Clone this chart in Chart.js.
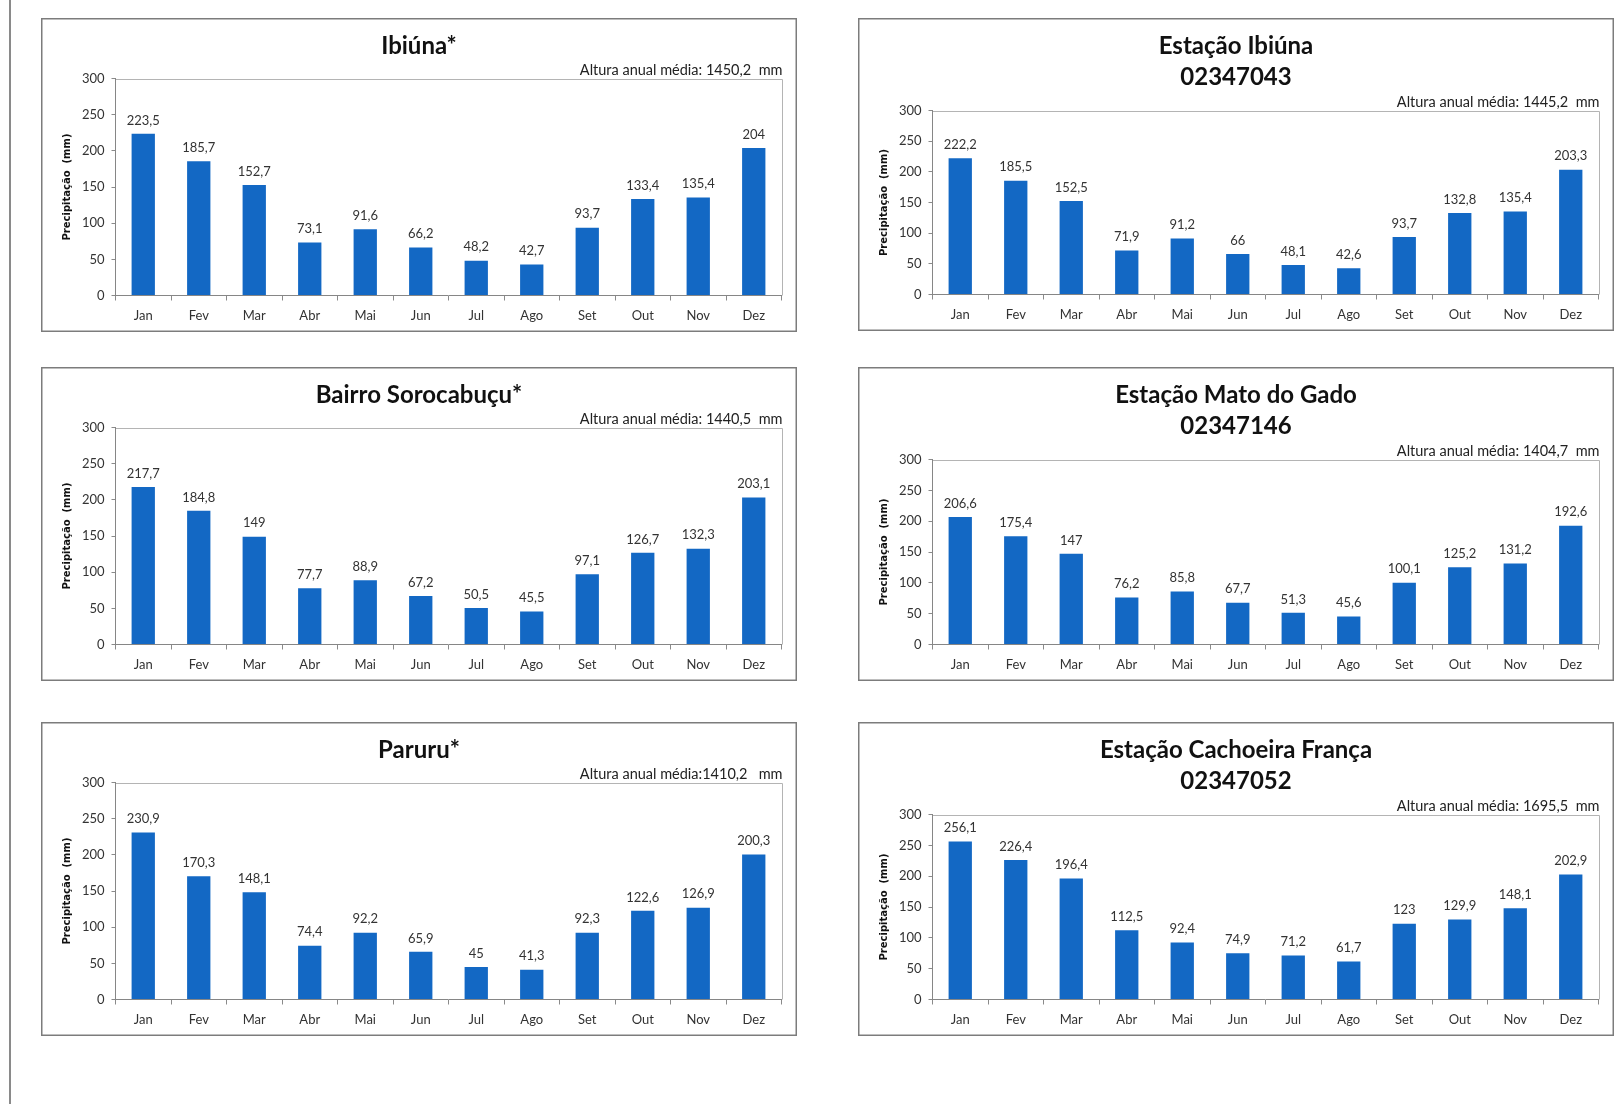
<!DOCTYPE html>
<html>
<head>
<meta charset="utf-8">
<script src="https://cdn.jsdelivr.net/npm/chart.js@4.4.0/dist/chart.umd.min.js"></script>
<style>
    body { margin: 0; background: #fff; width: 1619px; height: 1104px; position: relative; overflow: hidden; }
    #linha { position: absolute; left: 9px; top: 0; width: 2px; height: 1104px; background: #8a8a8a; }
    canvas { position: absolute; }
</style>
</head>
<body>
<div id="linha"></div>
<canvas id="c1" width="756" height="314" style="left:41px;top:18px"></canvas>
<canvas id="c2" width="756" height="313" style="left:858px;top:18px"></canvas>
<canvas id="c3" width="756" height="314" style="left:41px;top:367px"></canvas>
<canvas id="c4" width="756" height="314" style="left:858px;top:367px"></canvas>
<canvas id="c5" width="756" height="314" style="left:41px;top:722px"></canvas>
<canvas id="c6" width="756" height="314" style="left:858px;top:722px"></canvas>
<script>
// meses e precipitacao media mensal (mm) de cada posto
const meses = ['Jan', 'Fev', 'Mar', 'Abr', 'Mai', 'Jun', 'Jul', 'Ago', 'Set', 'Out', 'Nov', 'Dez'];
const ticksY = [0, 50, 100, 150, 200, 250, 300];

const ibiuna = [223.5, 185.7, 152.7, 73.1, 91.6, 66.2, 48.2, 42.7, 93.7, 133.4, 135.4, 204];
const estacaoIbiuna = [222.2, 185.5, 152.5, 71.9, 91.2, 66, 48.1, 42.6, 93.7, 132.8, 135.4, 203.3];
const sorocabucu = [217.7, 184.8, 149, 77.7, 88.9, 67.2, 50.5, 45.5, 97.1, 126.7, 132.3, 203.1];
const matoDoGado = [206.6, 175.4, 147, 76.2, 85.8, 67.7, 51.3, 45.6, 100.1, 125.2, 131.2, 192.6];
const paruru = [230.9, 170.3, 148.1, 74.4, 92.2, 65.9, 45, 41.3, 92.3, 122.6, 126.9, 200.3];
const cachoeiraFranca = [256.1, 226.4, 196.4, 112.5, 92.4, 74.9, 71.2, 61.7, 123, 129.9, 148.1, 202.9];

const titulos = [
    ['Ibiúna*'],
    ['Estação Ibiúna', '02347043'],
    ['Bairro Sorocabuçu*'],
    ['Estação Mato do Gado', '02347146'],
    ['Paruru*'],
    ['Estação Cachoeira França', '02347052']
];
const alturas = [
    'Altura anual média: 1450,2  mm',
    'Altura anual média: 1445,2  mm',
    'Altura anual média: 1440,5  mm',
    'Altura anual média: 1404,7  mm',
    'Altura anual média:1410,2   mm',
    'Altura anual média: 1695,5  mm'
];
const series = [ibiuna, estacaoIbiuna, sorocabucu, matoDoGado, paruru, cachoeiraFranca];

const fonte = 'Lato, "Open Sans", sans-serif';
const azul = '#1368c4';

// moldura, titulo, altura anual e rotulos das barras
const extras = {
    id: 'extras',
    beforeDraw(chart, args, opts) {
        const ctx = chart.ctx;
        const a = chart.chartArea;
        ctx.save();
        ctx.fillStyle = '#fff';
        ctx.fillRect(0, 0, chart.width, chart.height);
        ctx.strokeStyle = '#7c7c7c';
        ctx.lineWidth = 1.5;
        ctx.strokeRect(0.75, 0.75, chart.width - 1.5, chart.height - 1.5);
        // caixa da area do grafico
        ctx.strokeStyle = '#b4b4b4';
        ctx.lineWidth = 1;
        ctx.beginPath();
        ctx.moveTo(a.left, Math.round(a.top) + 0.5);
        ctx.lineTo(Math.round(a.right) + 0.5, Math.round(a.top) + 0.5);
        ctx.lineTo(Math.round(a.right) + 0.5, a.bottom);
        ctx.stroke();
        ctx.restore();
    },
    afterDraw(chart, args, opts) {
        const ctx = chart.ctx;
        const a = chart.chartArea;
        ctx.save();
        ctx.fillStyle = '#111';
        ctx.textAlign = 'center';
        ctx.textBaseline = 'middle';
        ctx.font = 'bold 24px ' + fonte;
        opts.titulo.forEach((t, i) => ctx.fillText(t, chart.width / 2, 28 + i * 31.5));
        ctx.font = '14.5px ' + fonte;
        ctx.fillStyle = '#222';
        ctx.textAlign = 'right';
        ctx.fillText(opts.altura, a.right + 1, a.top - 8);
        // valores em cima das barras
        ctx.font = '13px ' + fonte;
        ctx.fillStyle = '#333';
        ctx.textAlign = 'center';
        ctx.textBaseline = 'bottom';
        const meta = chart.getDatasetMeta(0);
        meta.data.forEach((bar, i) => {
            const v = chart.data.datasets[0].data[i];
            ctx.fillText(String(v).replace('.', ','), bar.x, bar.y - 7);
        });
        ctx.restore();
    }
};

function grafico(id, valores, titulo, altura) {
    const topo = titulo.length > 1 ? 92.5 : 60.5;
    const config = {
        type: 'bar',
        data: {
            labels: meses,
            datasets: [{
                data: valores,
                backgroundColor: azul,
                barPercentage: 0.42,
                categoryPercentage: 1
            }]
        },
        options: {
            responsive: false,
            animation: false,
            layout: { padding: { top: topo, right: 15.5, bottom: 0, left: 0 } },
            plugins: {
                legend: { display: false },
                tooltip: { enabled: false },
                extras: { titulo: titulo, altura: altura }
            },
            scales: {
                x: {
                    afterFit: (s) => { s.height = 36.5; },
                    grid: { offset: true, drawOnChartArea: false, tickLength: 5, color: '#8a8a8a' },
                    border: { color: '#868686' },
                    ticks: { color: '#333', padding: 8, font: { family: fonte, size: 13 } }
                },
                y: {
                    min: 0,
                    max: 300,
                    afterFit: (s) => { s.width = 74.5; },
                    afterBuildTicks: (s) => { s.ticks = ticksY.map(v => ({ value: v })); },
                    grid: { drawOnChartArea: false, tickLength: 4, color: '#8a8a8a' },
                    border: { color: '#868686' },
                    ticks: { color: '#333', padding: 7, font: { family: fonte, size: 13 } },
                    title: {
                        display: true,
                        text: 'Precipitação  (mm)',
                        color: '#111',
                        padding: { top: 20, bottom: 0 },
                        font: { family: '"DejaVu Sans", Verdana, sans-serif', size: 10, weight: 'bold' }
                    }
                }
            }
        },
        plugins: [extras]
    };
    return new Chart(document.getElementById(id), config);
}

series.forEach((valores, i) => grafico('c' + (i + 1), valores, titulos[i], alturas[i]));
</script>
</body>
</html>
